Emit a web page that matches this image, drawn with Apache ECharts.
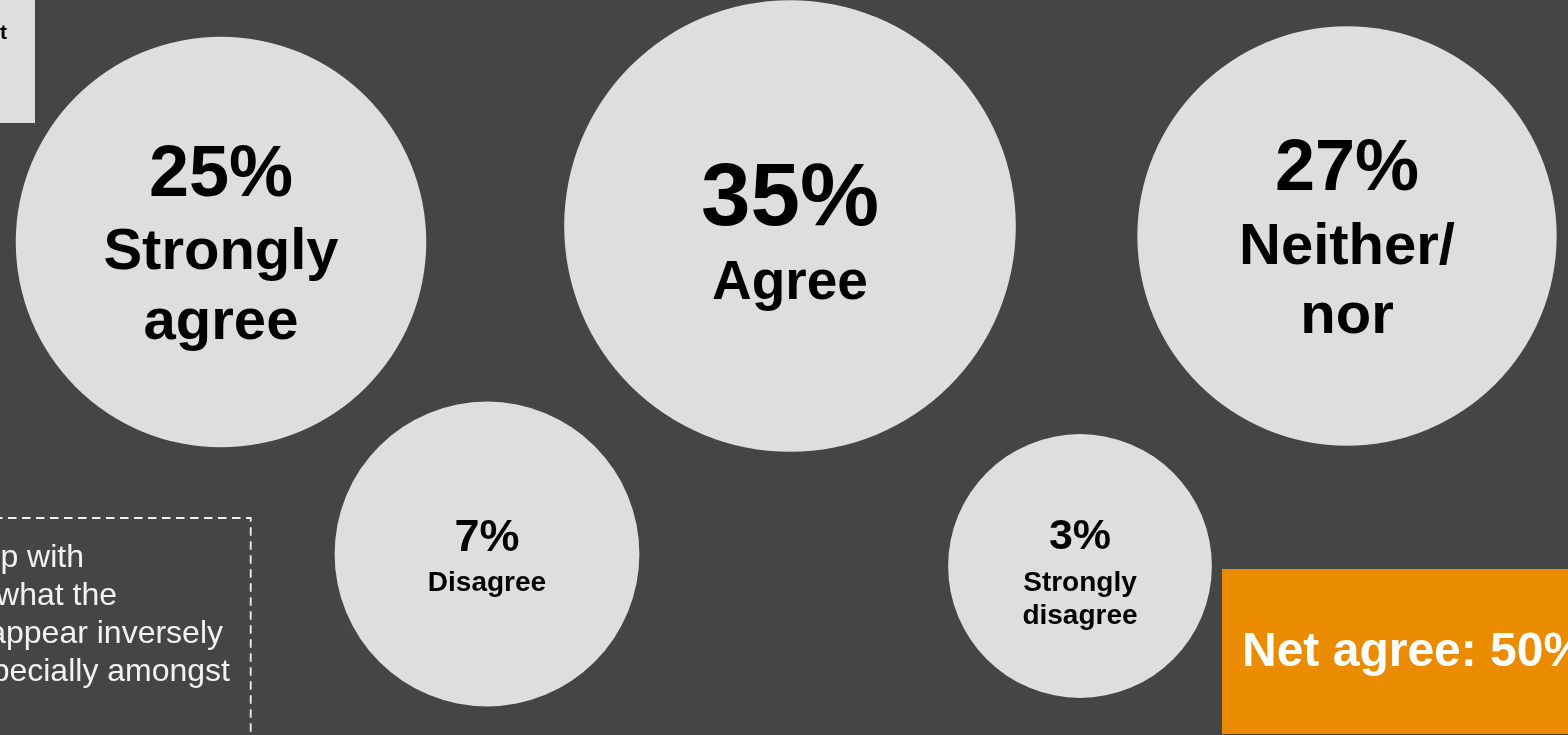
<!DOCTYPE html>
<html>
<head>
<meta charset="utf-8">
<title>Agreement bubbles</title>
<script src="https://cdn.jsdelivr.net/npm/echarts@6/dist/echarts.min.js"></script>
<style>
  html, body { margin: 0; padding: 0; background: #454545; }
  #chart { width: 1568px; height: 735px; }
</style>
</head>
<body>
<div id="chart"></div>
<script>
// ---- data ----
const categories = ['Strongly\nagree', 'Agree', 'Neither/\nnor', 'Disagree', 'Strongly\ndisagree'];
const shares = [25, 35, 27, 7, 3];
const noteLines = ['p with', 'what the', 'appear inversely', 'pecially amongst'];
const sideNote = 't';

// net agreement = (strongly agree + agree) - (disagree + strongly disagree)
const netAgree = shares[0] + shares[1] - shares[3] - shares[4];

// ---- layout (axis units of the full-canvas grid) ----
const bubbleCentres = [[221, 242], [790, 226], [1347, 236], [487, 554], [1080, 566]];
const labelLayout = [
  { pct: 72, name: 58, pctLH: 84, nameLH: 70, dy: 4 },
  { pct: 89, name: 55, pctLH: 102, nameLH: 66, dy: 7 },
  { pct: 72, name: 58, pctLH: 87, nameLH: 69, dy: 3 },
  { pct: 45, name: 28, pctLH: 54, nameLH: 34, dy: 2 },
  { pct: 43, name: 28, pctLH: 59, nameLH: 33, dy: 4 }
];
const noteRight = [84, 117, 223, 230];
const noteBaseline = [569, 607, 645, 683];

const FONT = '"Liberation Sans", Arial, Helvetica, sans-serif';
const BUBBLE = '#dedede';

// bubble diameter grows with the square root of the share
function bubbleDiameter(v) { return 186 + 44.9 * Math.sqrt(v); }

const seriesData = shares.map((v, i) => {
  const L = labelLayout[i];
  return {
    name: categories[i].replace('\n', ' '),
    value: [bubbleCentres[i][0], bubbleCentres[i][1], v],
    label: {
      offset: [0, L.dy],
      rich: {
        p: { fontSize: L.pct, lineHeight: L.pctLH, fontWeight: 'bold', color: '#000', fontFamily: FONT },
        n: { fontSize: L.name, lineHeight: L.nameLH, fontWeight: 'bold', color: '#000', fontFamily: FONT }
      }
    }
  };
});

const chart = echarts.init(document.getElementById('chart'), null, { renderer: 'canvas' });

const graphics = [
  // side panel at the top-left corner
  { type: 'rect', shape: { x: -20, y: -20, width: 55, height: 143 }, style: { fill: BUBBLE }, z: 5 },
  { type: 'text', x: 0, y: 33, style: { text: sideNote, fill: '#000', font: 'bold 21px ' + FONT, verticalAlign: 'middle', align: 'left' }, z: 6 },
  // dashed note box at the bottom-left
  { type: 'rect', shape: { x: -20, y: 518, width: 270.7, height: 260 },
    style: { fill: 'none', stroke: '#f0f0f0', lineWidth: 1.8, lineDash: [8.5, 5.5] }, z: 5 },
  // net agreement panel
  { type: 'rect', shape: { x: 1222, y: 569, width: 400, height: 165 }, style: { fill: '#EA8B00' }, z: 5 },
  { type: 'text', x: 1242, y: 653,
    style: { text: 'Net agree: ' + netAgree + '%', fill: '#ffffff', font: 'bold 48px ' + FONT, verticalAlign: 'middle', align: 'left' }, z: 6 }
];
noteLines.forEach((t, i) => {
  graphics.push({
    type: 'text', x: noteRight[i], y: noteBaseline[i] - 11.1,
    style: { text: t, fill: '#f2f2f2', font: '32px ' + FONT, align: 'right', verticalAlign: 'middle' }, z: 6
  });
});

chart.setOption({
  backgroundColor: '#454545',
  animation: false,
  grid: { left: 0, right: 0, top: 0, bottom: 0 },
  xAxis: { type: 'value', min: 0, max: 1568, show: false },
  yAxis: { type: 'value', min: 0, max: 735, inverse: true, show: false },
  series: [{
    type: 'scatter',
    clip: false,
    symbol: 'circle',
    symbolSize: val => bubbleDiameter(val[2]),
    itemStyle: { color: BUBBLE, opacity: 1 },
    label: {
      show: true,
      position: 'inside',
      formatter: p => '{p|' + p.value[2] + '%}\n{n|' + categories[p.dataIndex] + '}'
    },
    emphasis: { disabled: true },
    data: seriesData
  }],
  graphic: graphics
});
</script>
</body>
</html>
